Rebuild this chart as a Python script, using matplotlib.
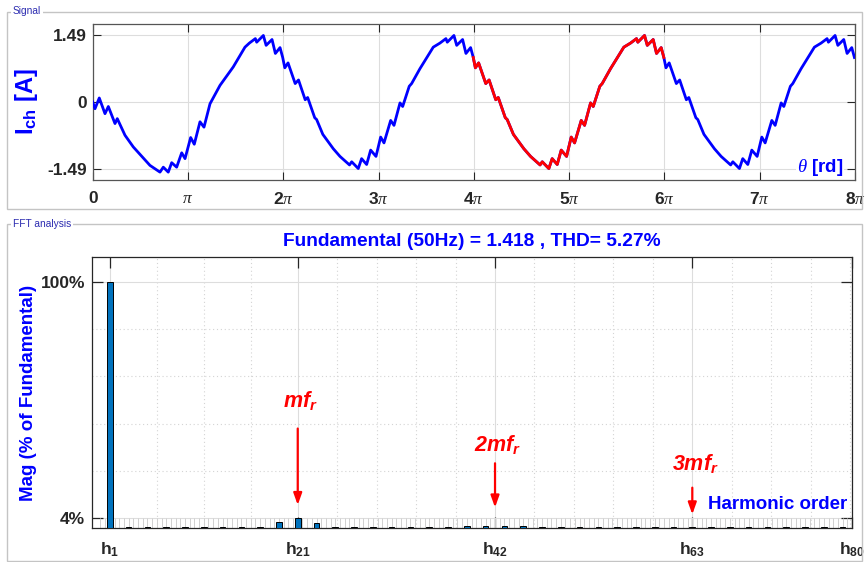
import numpy as np
import matplotlib
matplotlib.use('Agg')
from matplotlib import pyplot as plt
from matplotlib.patches import Rectangle
from matplotlib.ticker import FixedLocator

plt.rcParams['font.family'] = 'Liberation Sans'
plt.rcParams['mathtext.fontset'] = 'custom'
plt.rcParams['mathtext.rm'] = 'Liberation Sans'
plt.rcParams['mathtext.bf'] = 'Liberation Sans:bold'
plt.rcParams['mathtext.it'] = 'Liberation Serif:italic'
plt.rcParams['mathtext.bfit'] = 'Liberation Sans:italic:bold'

W, H = 865, 562

#signal, theta in units of pi
#first cycle has the start-up transient up to ~1.6 pi
start_theta = [0.000, 0.024, 0.069, 0.129, 0.164, 0.234, 0.258, 0.339, 0.426, 0.601,
               0.706, 0.741, 0.793, 0.829, 0.881, 0.934, 0.969, 1.028, 1.066, 1.126,
               1.168, 1.231, 1.336, 1.475, 1.598]
start_val = [0.00, -0.15, 0.09, -0.26, -0.10, -0.48, -0.37, -0.74, -1.00, -1.41,
             -1.56, -1.45, -1.56, -1.35, -1.45, -1.13, -1.26, -0.79, -0.94, -0.44,
             -0.56, -0.04, 0.37, 0.78, 1.22]

#one steady-state cycle (phase in units of pi), same shape on every cycle
cycle_phase = [0.016, 0.050, 0.125, 0.160, 0.230, 0.256, 0.330, 0.350, 0.415, 0.525,
               0.595, 0.695, 0.718, 0.787, 0.822, 0.875, 0.917, 0.973, 1.022, 1.057,
               1.127, 1.162, 1.225, 1.253, 1.322, 1.347, 1.434, 1.574, 1.644, 1.707,
               1.721, 1.791, 1.820, 1.882, 1.917, 1.966, 1.994]
cycle_val = [0.76, 0.87, 0.41, 0.49, 0.05, 0.10, -0.35, -0.39, -0.72, -1.04,
             -1.21, -1.40, -1.33, -1.48, -1.26, -1.39, -1.07, -1.21, -0.78, -0.91,
             -0.41, -0.52, -0.02, -0.10, 0.35, 0.41, 0.74, 1.22, 1.31, 1.41,
             1.33, 1.48, 1.26, 1.39, 1.08, 1.21, 0.99]

n_cycles = 4
red_from, red_to = 4, 6   # highlighted cycle, units of pi

#FFT magnitudes (% of fundamental), harmonic orders 1..80
harm_order = list(range(1, 81))
harm_mag = [100, 0, 0.3, 0, 0.3, 0, 0.3, 0, 0.3, 0,
            0.3, 0, 0.3, 0, 0.3, 0, 0.3, 0, 2.3, 0,
            4.1, 0, 1.9, 0, 0.3, 0, 0.3, 0, 0.3, 0,
            0.3, 0, 0.3, 0, 0.3, 0, 0.3, 0, 0.8, 0,
            0.7, 0, 0.7, 0, 0.7, 0, 0.3, 0, 0.3, 0,
            0.3, 0, 0.3, 0, 0.3, 0, 0.3, 0, 0.3, 0,
            0.3, 0, 0.3, 0, 0.3, 0, 0.3, 0, 0.3, 0,
            0.3, 0, 0.3, 0, 0.3, 0, 0.3, 0, 0.3, 0]
fund_text = 'Fundamental (50Hz) = 1.418 , THD= 5.27%'
h_ticks = [1, 21, 42, 63, 80]
mark_orders = [21, 42, 63]
mark_labels = [r'$\mathbfit{mf_r}$', r'$\mathbfit{2mf_r}$', r'$\mathbfit{3mf_r}$']

#build the full signal from the read cycle
th = list(start_theta)
val = list(start_val)
for p, v in zip(cycle_phase, cycle_val):
	if p > start_theta[-1] + 0.01:
		th.append(p)
		val.append(v)
for k in range(1, n_cycles):
	for p, v in zip(cycle_phase, cycle_val):
		th.append(p + 2*k)
		val.append(v)
th = np.array(th)
val = np.array(val)

def fx(px):
	return px / W

def fy(py):
	return 1 - py / H

fig = plt.figure(figsize=(W/100, H/100), dpi=100)

#panel frames
for (x0, y0, x1, y1, name) in [(7, 11.5, 862, 209, 'Signal'), (7, 224, 862, 561, 'FFT analysis')]:
	fig.add_artist(Rectangle((fx(x0), fy(y1)), fx(x1) - fx(x0), fy(y0) - fy(y1),
		transform=fig.transFigure, fill=False, edgecolor='#c4c4c4', linewidth=1.0))
	fig.text(fx(13), fy(y0), name, fontsize=7.3, color='#2b2bb0', ha='left', va='center',
		bbox=dict(facecolor='white', edgecolor='none', pad=1.2))

dark = '#262626'

#signal plot
ax1 = fig.add_axes([fx(92.7), fy(180), fx(855) - fx(92.7), fy(24) - fy(180)])
ax1.plot(th*np.pi, val, color='#0000ff', linewidth=2.0, zorder=3)
red = (th >= red_from - 0.01) & (th <= red_to - 0.005)
ax1.plot(th[red]*np.pi, val[red], color='#ff0000', linewidth=2.0, zorder=4)
ax1.set_xlim(0, 8*np.pi)
ax1.set_ylim(-1.735, 1.735)
ax1.set_xticks(np.arange(0, 9)*np.pi)
ax1.set_xticklabels(['0', r'$\pi$'] + [r'$\mathbf{%d}\pi$' % k for k in range(2, 9)])
ax1.set_yticks([-1.49, 0, 1.49])
ax1.set_yticklabels(['-1.49', '0', '1.49'])
ax1.grid(True, color='#dddddd', linewidth=0.8)
ax1.set_axisbelow(True)
ax1.tick_params(direction='in', length=6, top=True, right=True, color=dark, labelcolor=dark,
	labelsize=12.5, width=0.8)
ax1.tick_params(axis='x', pad=8)
ax1.tick_params(axis='y', pad=4)
for lab in ax1.get_xticklabels() + ax1.get_yticklabels():
	lab.set_fontweight('bold')
for s in ax1.spines.values():
	s.set_color('#555555')
	s.set_linewidth(0.9)
ax1.set_ylabel(r'$\mathbf{I_{ch}}$ [A]', fontsize=17, fontweight='bold', color='#0000ff')
ax1.yaxis.set_label_coords(-0.069, 0.5)
ax1.text(0.985, 0.08, r'$\theta$ [rd]', transform=ax1.transAxes, ha='right', va='center',
	fontsize=13.5, fontweight='bold', color='#0000ff', zorder=6,
	bbox=dict(facecolor='white', edgecolor='none', pad=0.5))

#FFT plot
ax2 = fig.add_axes([fx(92), fy(528), fx(852) - fx(92), fy(257) - fy(528)])
ax2.bar(harm_order, harm_mag, width=0.6, color='#0072bd', edgecolor='black', linewidth=0.7, zorder=3)
ax2.set_xlim(-0.9, 80)
ax2.set_ylim(0, 110)
ax2.set_xticks(h_ticks)
ax2.set_xticklabels([r'$\mathbf{h_{%d}}$' % h for h in h_ticks])
ax2.set_yticks([4, 100])
ax2.set_yticklabels(['4%', '100%'])
minor_x = [6, 11, 16] + [21 + 4.2*k for k in range(1, 15) if k % 5 != 0]
ax2.xaxis.set_minor_locator(FixedLocator(minor_x))
ax2.yaxis.set_minor_locator(FixedLocator([4 + 19.2*k for k in range(1, 5)]))
ax2.grid(True, which='major', color='#dddddd', linewidth=0.8)
ax2.grid(True, which='minor', color='#d4d4d4', linewidth=0.8, linestyle=(0, (1, 2.5)))
ax2.set_axisbelow(True)
ax2.vlines(np.arange(0, 80.5, 0.5), 0, 4, color='#d0d0d0', linewidth=0.7, zorder=1)
ax2.tick_params(which='major', direction='in', length=8, top=True, right=True, color=dark,
	labelcolor=dark, labelsize=12.5, width=0.9)
ax2.tick_params(which='minor', length=0)
ax2.tick_params(axis='x', pad=9)
ax2.tick_params(axis='y', pad=5)
for lab in ax2.get_xticklabels() + ax2.get_yticklabels():
	lab.set_fontweight('bold')
for s in ax2.spines.values():
	s.set_color(dark)
	s.set_linewidth(0.9)
ax2.set_title(fund_text, fontsize=13.8, fontweight='bold', color='#0000ff', pad=8)
ax2.set_ylabel('Mag (% of Fundamental)', fontsize=13.5, fontweight='bold', color='#0000ff')
ax2.yaxis.set_label_coords(-0.073, 0.5)

#arrows pointing at the switching-frequency harmonics
arrow_top = [41.5, 27.4, 17.5]
arrow_tip = [8.2, 7.2, 4.4]
label_y = [51.5, 33.5, 26]
for h, lab, y0, y1, ly in zip(mark_orders, mark_labels, arrow_top, arrow_tip, label_y):
	ax2.annotate('', xy=(h, y1), xytext=(h, y0),
		arrowprops=dict(arrowstyle='-|>,head_length=0.7,head_width=0.25', color='#ff0000', lw=1.6), zorder=5)
	ax2.text(h + 0.3, ly, lab, ha='center', va='center', fontsize=15.5, color='#ff0000', zorder=5)
ax2.text(79.5, 9.4, 'Harmonic order', ha='right', va='center', fontsize=13.5,
	fontweight='bold', color='#0000ff', zorder=6)

plt.savefig('out.png', dpi=100)
